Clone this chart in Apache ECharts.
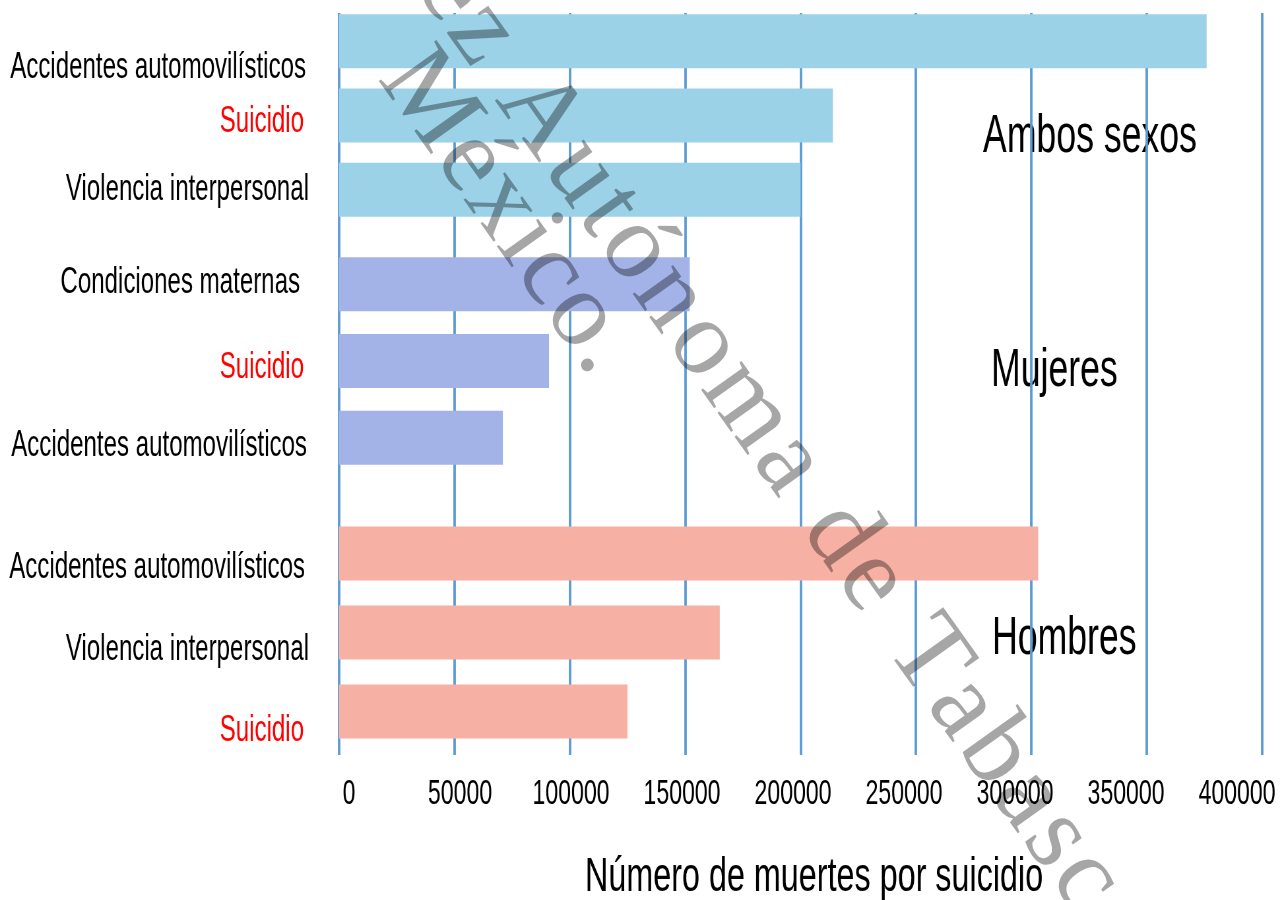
<!DOCTYPE html>
<html>
<head>
<meta charset="utf-8">
<script src="https://cdn.jsdelivr.net/npm/echarts@6/dist/echarts.min.js"></script>
<style>
  html, body { margin: 0; padding: 0; overflow: hidden; background: #fff; }
  /* la figura original está comprimida en horizontal: se dibuja ancha y se encoge */
  #main { position: absolute; left: 0; top: 0; width: 1940px; height: 900px;
          transform: scaleX(0.6598); transform-origin: 0 0; }
  #wm { position: absolute; left: 0; top: 0; width: 1280px; height: 900px; pointer-events: none; }
</style>
</head>
<body>
<div id="main"></div>
<div id="wm"></div>
<script>
// grupos y causas (de arriba a abajo)
const grupos = ['Ambos sexos', 'Mujeres', 'Hombres'];
const ambosCats = ['Accidentes automovilísticos', 'Suicidio', 'Violencia interpersonal'];
const ambosVals = [376000, 214000, 200000];
const mujeresCats = ['Condiciones maternas', 'Suicidio', 'Accidentes automovilísticos'];
const mujeresVals = [152000, 91000, 71000];
const hombresCats = ['Accidentes automovilísticos', 'Violencia interpersonal', 'Suicidio'];
const hombresVals = [303000, 165000, 125000];
const xMin = 0, xMax = 400000, xStep = 50000;
const xTitulo = 'Número de muertes por suicidio';
const colores = ['#9BD2E8', '#A3B3E8', '#F6B1A4'];

const W = 1940;
const K = 1280 / W;           // factor de compresión horizontal
const sx = v => v / K;        // px de la imagen -> px del lienzo
const fuente = 'Liberation Sans';

// posición de cada bloque (px en vertical)
const bloques = [{ top: 4, height: 223 }, { top: 246, height: 230 }, { top: 514, height: 237 }];
// ajuste fino de las etiquetas del eje y (px de la imagen)
const labelDy = [[26.5, 6, 0.5], [-1, 6.5, 8.5], [14, 17, 19]];
const labelPadR = [[3, 5, 0], [9, 5, 2], [4, 0, 5]];
const grupoLabelPos = [[983, 137], [991, 371], [992, 639]];

const cats = [ambosCats, mujeresCats, hombresCats];
const vals = [ambosVals, mujeresVals, hombresVals];

let grid = [
  // etiquetas de los ticks
  { left: sx(349), right: W - sx(1237), top: 13, bottom: 145, outerBoundsMode: 'none' },
  // líneas de división y título
  { left: sx(339), right: W - sx(1262), top: 13, bottom: 145, outerBoundsMode: 'none' }
];
let xAxis = [
  {
    gridIndex: 0, type: 'value', min: xMin, max: xMax, interval: xStep,
    axisLine: { show: false }, axisTick: { show: false }, splitLine: { show: false },
    axisLabel: { fontSize: 35, fontFamily: fuente, color: '#000', margin: 22,
                 formatter: v => String(v) }
  },
  {
    gridIndex: 1, type: 'value', min: xMin, max: xMax, interval: xStep,
    axisLine: { show: false }, axisTick: { show: false }, axisLabel: { show: false },
    splitLine: { show: true, lineStyle: { color: '#5B9BD5', width: 2.5 / K } },
    name: xTitulo, nameLocation: 'middle', nameGap: 98,
    nameTextStyle: { fontSize: 49, fontFamily: fuente, color: '#000', padding: [0, 0, 0, 41] }
  }
];
let yAxis = [
  { gridIndex: 0, type: 'value', show: false },
  { gridIndex: 1, type: 'value', show: false }
];
let series = [];

for (let i = 0; i < 3; i++) {
  let rich = {};
  cats[i].forEach((c, j) => {
    const dy = labelDy[i][j];
    rich['r' + j] = {
      fontSize: 36.5, fontFamily: fuente,
      color: c === 'Suicidio' ? '#FF0000' : '#000',
      padding: [dy > 0 ? 2 * dy : 0, sx(labelPadR[i][j]), dy < 0 ? -2 * dy : 0, 0]
    };
  });
  grid.push({ left: sx(339), right: W - sx(1262), top: bloques[i].top, height: bloques[i].height,
              outerBoundsMode: 'none' });
  xAxis.push({ gridIndex: i + 2, type: 'value', min: xMin, max: xMax, show: false });
  yAxis.push({
    gridIndex: i + 2, type: 'category', inverse: true, data: cats[i],
    axisLine: { show: false }, axisTick: { show: false }, splitLine: { show: false },
    axisLabel: {
      fontSize: 36.5, fontFamily: fuente, color: '#000', margin: sx(30),
      formatter: (v, j) => '{r' + j + '|' + v + '}', rich: rich
    }
  });
  series.push({
    name: grupos[i], type: 'bar', xAxisIndex: i + 2, yAxisIndex: i + 2,
    data: vals[i], barWidth: 54, itemStyle: { color: colores[i] }, silent: true
  });
}

const chart = echarts.init(document.getElementById('main'));
chart.setOption({
  backgroundColor: '#fff',
  animation: false,
  grid: grid,
  xAxis: xAxis,
  yAxis: yAxis,
  series: series,
  graphic: grupos.map((g, i) => ({
    type: 'text', x: sx(grupoLabelPos[i][0]), y: grupoLabelPos[i][1],
    style: { text: g, font: '54px "Liberation Sans"', fill: '#000', textVerticalAlign: 'middle' }
  }))
});

// marca de agua diagonal
const wmLineas = ['Universidad Juárez Autónoma de Tabasco.', 'México.'];
const wmAnclas = [{ idx: wmLineas[0].indexOf('Autónoma'), x: 540, y: 115, sp: 5 },
                  { idx: 0, x: 428, y: 101, sp: 2 }];
const wmSize = 108, wmAng = 54.5 * Math.PI / 180;
const ctx = document.createElement('canvas').getContext('2d');
ctx.font = wmSize + 'px "Liberation Serif"';
let wmEls = [];
wmLineas.forEach((txt, l) => {
  const ch = Array.from(txt);
  const a = wmAnclas[l];
  const w = ch.map(c => ctx.measureText(c).width);
  let s = [], acc = 0;
  for (let i = 0; i < ch.length; i++) {
    s.push(acc + w[i] / 2);
    acc += w[i] + a.sp;
  }
  ch.forEach((c, i) => {
    if (c === ' ') return;
    const d = s[i] - s[a.idx];
    wmEls.push({
      type: 'text', x: a.x + d * Math.cos(wmAng), y: a.y + d * Math.sin(wmAng), rotation: -wmAng,
      style: { text: c, font: wmSize + 'px "Liberation Serif"', fill: 'rgba(0,0,0,0.35)',
               textAlign: 'center', textVerticalAlign: 'middle' }
    });
  });
});
const wm = echarts.init(document.getElementById('wm'));
wm.setOption({ animation: false, graphic: { elements: wmEls } });
</script>
</body>
</html>
